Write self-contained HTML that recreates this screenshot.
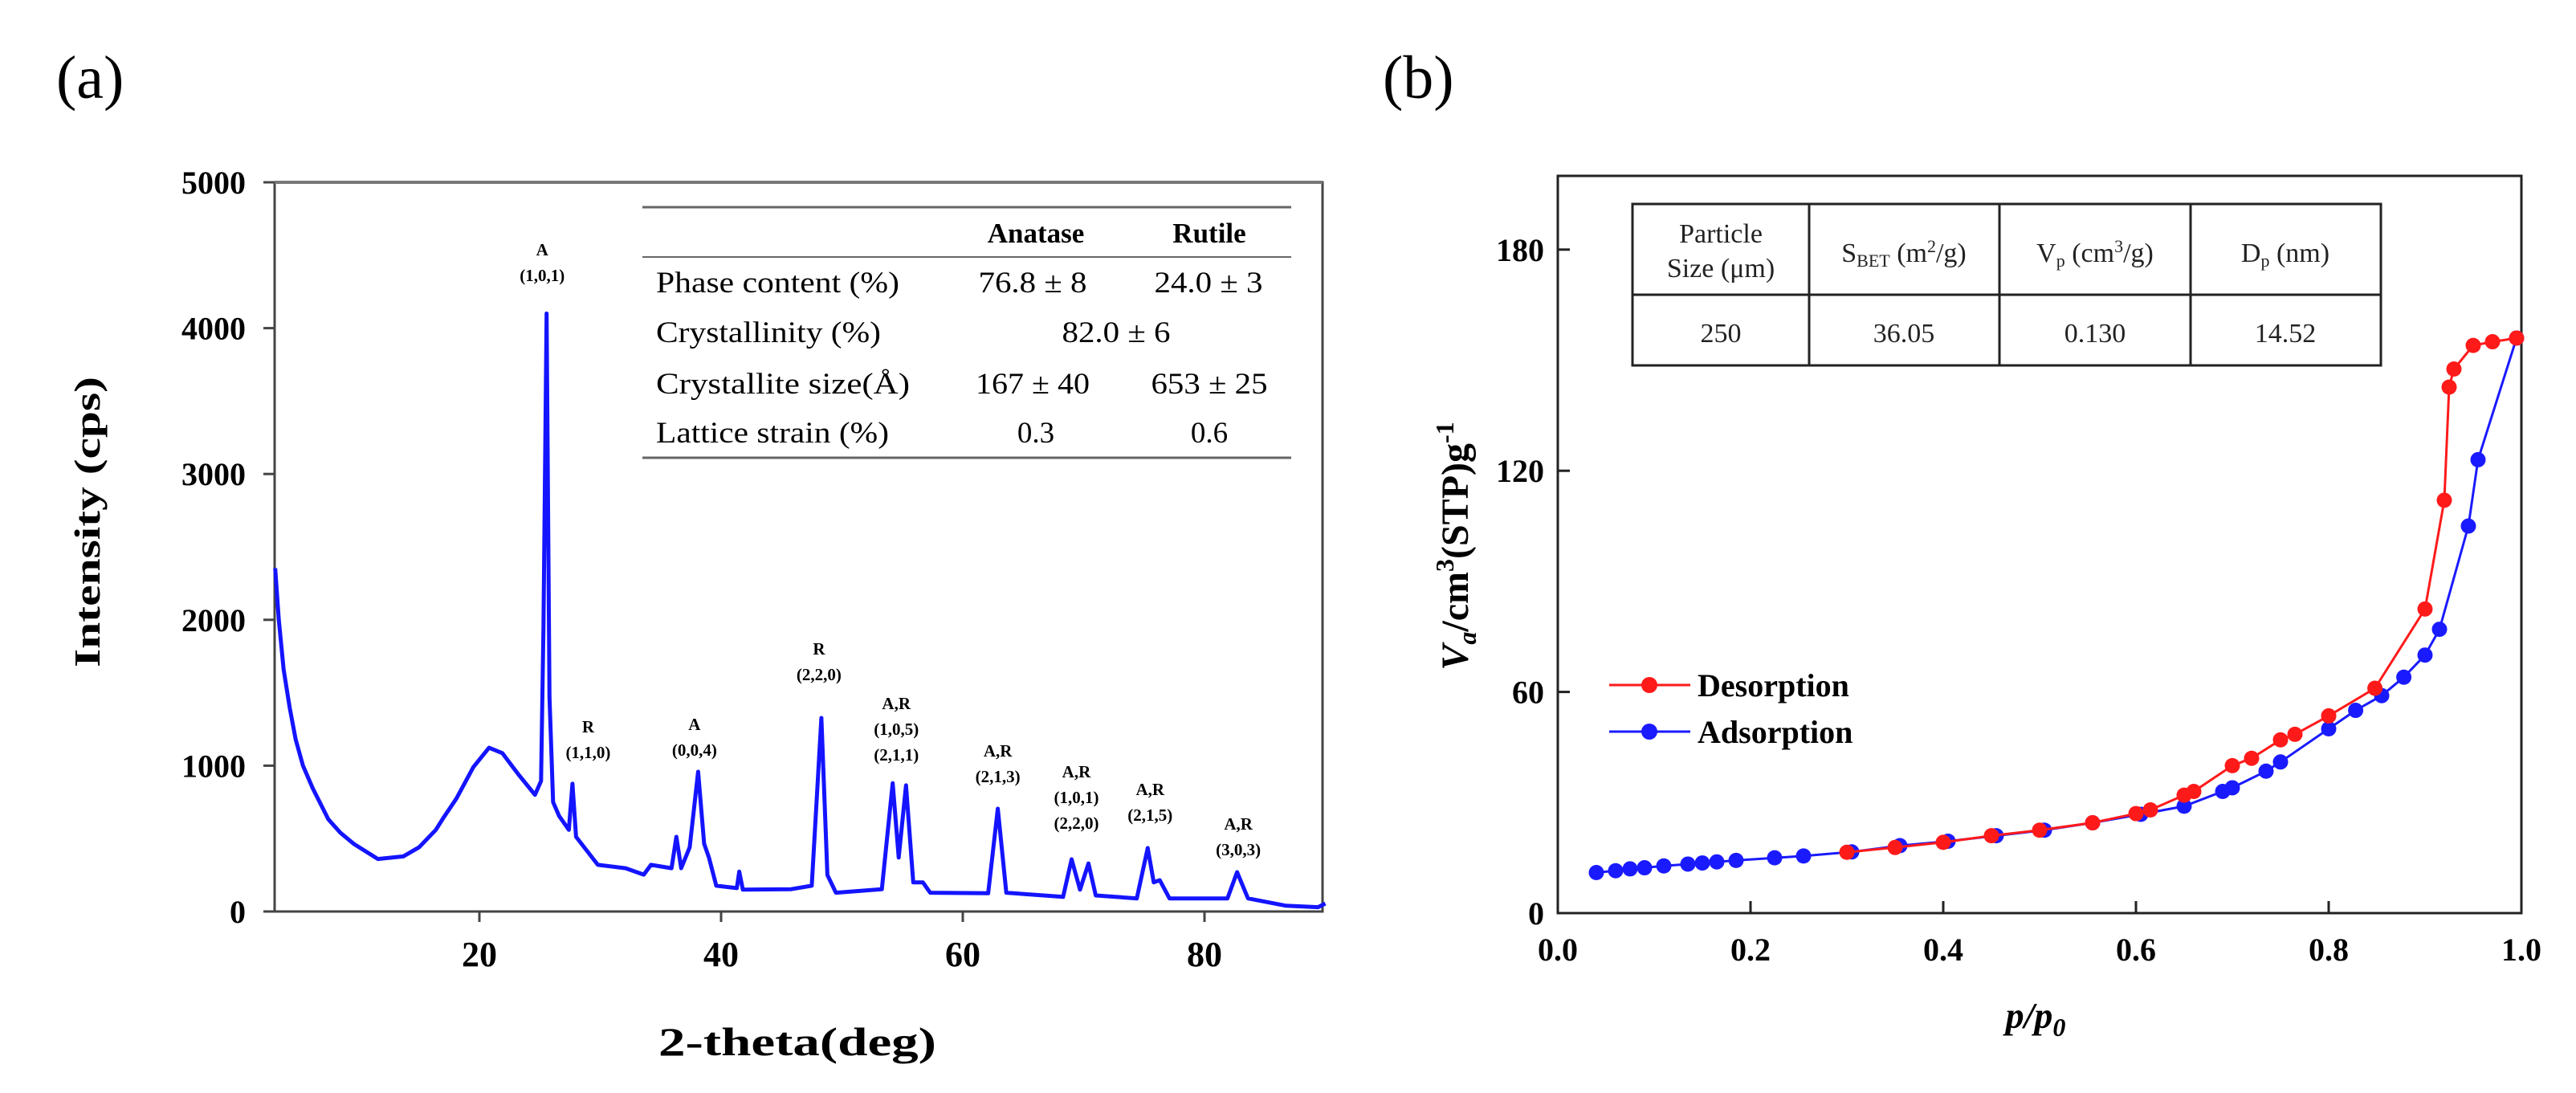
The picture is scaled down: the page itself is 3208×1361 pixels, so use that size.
<!DOCTYPE html>
<html><head><meta charset="utf-8">
<style>
html,body{margin:0;padding:0;background:#fff;overflow:hidden;}
svg{display:block;font-family:"Liberation Serif",serif;}
</style></head>
<body>
<svg id="fig" width="3208" height="1361" viewBox="0 0 3208 1361" xmlns="http://www.w3.org/2000/svg">
<rect width="3208" height="1361" fill="#fff"/>
<text x="70" y="122" font-size="76">(a)</text>
<text x="1722" y="122" font-size="76">(b)</text>

<!-- Panel A -->
<g id="pa">
  <rect x="342" y="227" width="1305" height="908" fill="none" stroke="#444" stroke-width="3"/>
  <line x1="342" y1="227" x2="1647" y2="227" stroke="#777" stroke-width="4"/>
  <g id="pa-ticks"></g>
  <path id="xrd-line" fill="none" stroke="#1414ff" stroke-width="5" stroke-linejoin="round"/>
  <g id="pa-peaks"></g>
  <text transform="translate(124,650) rotate(-90)" text-anchor="middle" font-size="46" font-weight="bold" textLength="362" lengthAdjust="spacingAndGlyphs">Intensity (cps)</text>
  <text x="993" y="1314" text-anchor="middle" font-size="50" font-weight="bold" textLength="346" lengthAdjust="spacingAndGlyphs">2-theta(deg)</text>
  <g font-size="37">
    <line x1="800" y1="258" x2="1608" y2="258" stroke="#666" stroke-width="3"/>
    <line x1="800" y1="320" x2="1608" y2="320" stroke="#666" stroke-width="2"/>
    <line x1="800" y1="570" x2="1608" y2="570" stroke="#666" stroke-width="3"/>
    <text x="1290" y="302" text-anchor="middle" font-weight="bold" font-size="35">Anatase</text>
    <text x="1506" y="302" text-anchor="middle" font-weight="bold" font-size="35">Rutile</text>
    <text x="817" y="364" textLength="303" lengthAdjust="spacingAndGlyphs">Phase content (%)</text>
    <text x="1286" y="364" text-anchor="middle" textLength="135" lengthAdjust="spacingAndGlyphs">76.8 ± 8</text>
    <text x="1505" y="364" text-anchor="middle" textLength="135" lengthAdjust="spacingAndGlyphs">24.0 ± 3</text>
    <text x="817" y="426" textLength="280" lengthAdjust="spacingAndGlyphs">Crystallinity (%)</text>
    <text x="1390" y="426" text-anchor="middle" textLength="135" lengthAdjust="spacingAndGlyphs">82.0 ± 6</text>
    <text x="817" y="490" textLength="316" lengthAdjust="spacingAndGlyphs">Crystallite size(Å)</text>
    <text x="1286" y="490" text-anchor="middle" textLength="142" lengthAdjust="spacingAndGlyphs">167 ± 40</text>
    <text x="1506" y="490" text-anchor="middle" textLength="145" lengthAdjust="spacingAndGlyphs">653 ± 25</text>
    <text x="817" y="551" textLength="290" lengthAdjust="spacingAndGlyphs">Lattice strain (%)</text>
    <text x="1290" y="551" text-anchor="middle">0.3</text>
    <text x="1506" y="551" text-anchor="middle">0.6</text>
  </g>
</g>

<!-- Panel B -->
<g id="pb">
  <rect x="1940" y="219" width="1200" height="918" fill="none" stroke="#222" stroke-width="3"/>
  <g id="pb-ticks"></g>
  <g id="pb-series"></g>
  <text transform="translate(1828,680) rotate(-90)" text-anchor="middle" font-size="48" font-weight="bold"><tspan font-style="italic">V</tspan><tspan font-style="italic" font-size="32" dy="10">a</tspan><tspan dy="-10">/cm</tspan><tspan font-size="32" dy="-18">3</tspan><tspan dy="18">(STP)g</tspan><tspan font-size="32" dy="-18">-1</tspan></text>
  <text x="2535" y="1280" text-anchor="middle" font-size="46" font-weight="bold" font-style="italic">p/p<tspan font-size="32" dy="10">0</tspan></text>
  <g font-size="40" font-weight="bold">
    <line x1="2004" y1="853" x2="2105" y2="853" stroke="#ff1a1a" stroke-width="3"/>
    <circle cx="2054" cy="853" r="10" fill="#ff1a1a"/>
    <text x="2114" y="867">Desorption</text>
    <line x1="2004" y1="911" x2="2105" y2="911" stroke="#1a1aff" stroke-width="3"/>
    <circle cx="2054" cy="911" r="10" fill="#1a1aff"/>
    <text x="2114" y="925">Adsorption</text>
  </g>
  <g font-size="34" fill="#222">
    <rect x="2033" y="254" width="932" height="201" fill="#fff" stroke="#222" stroke-width="3"/>
    <line x1="2033" y1="367" x2="2965" y2="367" stroke="#222" stroke-width="3"/>
    <line x1="2253" y1="254" x2="2253" y2="455" stroke="#222" stroke-width="3"/>
    <line x1="2490" y1="254" x2="2490" y2="455" stroke="#222" stroke-width="3"/>
    <line x1="2728" y1="254" x2="2728" y2="455" stroke="#222" stroke-width="3"/>
    <text x="2143" y="302" text-anchor="middle">Particle</text>
    <text x="2143" y="345" text-anchor="middle">Size (μm)</text>
    <text x="2371" y="326" text-anchor="middle">S<tspan font-size="22" dy="6">BET</tspan><tspan dy="-6"> (m</tspan><tspan font-size="22" dy="-12">2</tspan><tspan dy="12">/g)</tspan></text>
    <text x="2609" y="326" text-anchor="middle">V<tspan font-size="22" dy="6">p</tspan><tspan dy="-6"> (cm</tspan><tspan font-size="22" dy="-12">3</tspan><tspan dy="12">/g)</tspan></text>
    <text x="2846" y="326" text-anchor="middle">D<tspan font-size="22" dy="6">p</tspan><tspan dy="-6"> (nm)</tspan></text>
    <text x="2143" y="426" text-anchor="middle">250</text>
    <text x="2371" y="426" text-anchor="middle">36.05</text>
    <text x="2609" y="426" text-anchor="middle">0.130</text>
    <text x="2846" y="426" text-anchor="middle">14.52</text>
  </g>
</g>
</svg>
<script>
// ---- Panel A data ----
const xrdTheta = [3.1,3.4,3.8,4.3,4.8,5.4,6.2,7.5,8.5,9.6,11.6,13.7,15.0,16.4,17.0,18.1,19.5,20.8,21.9,22.5,23.2,24.6,25.1,25.3,25.56,25.8,26.1,26.6,27.4,27.7,28.0,29.8,32.1,33.6,34.2,35.9,36.3,36.7,37.4,38.1,38.6,39.0,39.6,41.3,41.5,41.8,45.8,47.5,48.3,48.8,49.5,53.3,54.2,54.7,55.3,55.9,56.7,57.3,62.1,62.9,63.6,68.3,69.0,69.7,70.4,71.0,74.4,75.3,75.8,76.3,77.1,81.9,82.7,83.6,86.7,89.4,90.0];
const xrdIntensity = [2354,2000,1660,1400,1180,1000,847,632,540,464,360,378,440,560,640,775,990,1123,1086,1020,943,800,895,1950,4100,1470,750,655,560,876,512,320,297,253,320,297,512,297,440,958,464,368,177,160,273,150,153,177,1327,250,129,153,880,370,865,200,200,129,125,705,129,100,358,150,330,110,90,435,200,215,90,90,270,90,40,30,55];
const xTicks = [20,40,60,80];
const yTicks = [0,1000,2000,3000,4000,5000];
const peakNames = ["A|(1,0,1)","R|(1,1,0)","A|(0,0,4)","R|(2,2,0)","A,R|(1,0,5)|(2,1,1)","A,R|(2,1,3)","A,R|(1,0,1)|(2,2,0)","A,R|(2,1,5)","A,R|(3,0,3)"];
const peakTheta = [25.2,29.0,37.8,48.1,54.5,62.9,69.4,75.5,82.8];
const peakLabelIntensity = [4499,1228,1245,1762,1388,1063,920,799,562];

// ---- Panel B data ----
const adsP = [0.04,0.06,0.075,0.09,0.11,0.135,0.15,0.165,0.185,0.225,0.255,0.305,0.355,0.405,0.455,0.505,0.555,0.605,0.65,0.69,0.70,0.735,0.75,0.80,0.828,0.855,0.878,0.90,0.915,0.945,0.955,0.995];
const adsV = [11,11.5,12,12.3,12.8,13.3,13.6,13.9,14.3,15,15.5,16.6,18.3,19.5,21,22.5,24.5,26.8,29,33,34,38.5,41,50,55,59,64,70,77,105,123,156];
const desP = [0.30,0.35,0.40,0.45,0.50,0.555,0.60,0.615,0.65,0.66,0.70,0.72,0.75,0.765,0.80,0.848,0.90,0.92,0.925,0.93,0.95,0.97,0.995];
const desV = [16.5,17.8,19.2,21,22.5,24.5,27,28,32,33,40,42,47,48.5,53.5,61,82.5,112,142.7,147.6,154,155,156];
const bxTicks = [0,0.2,0.4,0.6,0.8,1.0];
const byTicks = [0,60,120,180];

const NS="http://www.w3.org/2000/svg";
function mk(tag,attrs,parent){const e=document.createElementNS(NS,tag);for(const k in attrs)e.setAttribute(k,attrs[k]);parent.appendChild(e);return e;}

// Panel A scales
const ax=t=>597+(t-20)*15.05;
const ay=v=>1135-v*0.1816;
const ga=document.getElementById('pa-ticks');
xTicks.forEach(t=>{
  const l=mk('line',{x1:ax(t),x2:ax(t),y1:1135,y2:1148,stroke:'#444','stroke-width':3},ga);
  
  
  const tx=mk('text',{x:ax(t),y:1203,'text-anchor':'middle','font-size':44,'font-weight':'bold'},ga);
  tx.textContent=t;
  
  
});
yTicks.forEach(v=>{
  const l=mk('line',{x1:328,x2:342,y1:ay(v),y2:ay(v),stroke:'#444','stroke-width':3},ga);
  
  
  const tx=mk('text',{x:306,y:ay(v)+14,'text-anchor':'end','font-size':40,'font-weight':'bold'},ga);
  tx.textContent=v;
  
  
});
document.getElementById('xrd-line').setAttribute('d',xrdTheta.map((t,i)=>(i?'L':'M')+ax(t).toFixed(1)+','+ay(xrdIntensity[i]).toFixed(1)).join(''));
const gp=document.getElementById('pa-peaks');
peakNames.forEach((n,i)=>{
  const parts=n.split('|');
  const baseY=ay(peakLabelIntensity[i]);
  parts.forEach((p,j)=>{
    const tx=mk('text',{x:ax(peakTheta[i]),y:baseY+j*32,'text-anchor':'middle','font-size':21,'font-weight':'bold'},gp);
    tx.textContent=p;
    
    
  });
});

// Panel B scales
const bx=p=>1940+p*1200;
const by=v=>1137-v*4.59;
const gb=document.getElementById('pb-ticks');
bxTicks.forEach(t=>{
  const l=mk('line',{x1:bx(t),x2:bx(t),y1:1137,y2:1122,stroke:'#222','stroke-width':3},gb);
  
  
  const tx=mk('text',{x:bx(t),y:1196,'text-anchor':'middle','font-size':40,'font-weight':'bold'},gb);
  tx.textContent=t.toFixed(1);
  
  
});
byTicks.forEach(v=>{
  const l=mk('line',{x1:1940,x2:1955,y1:by(v),y2:by(v),stroke:'#222','stroke-width':3},gb);
  
  
  const tx=mk('text',{x:1923,y:by(v)+14,'text-anchor':'end','font-size':40,'font-weight':'bold'},gb);
  tx.textContent=v;
  
  
});
const gs=document.getElementById('pb-series');
function series(P,V,color,name){
  const pl=mk('polyline',{points:P.map((p,i)=>bx(p).toFixed(1)+','+by(V[i]).toFixed(1)).join(' '),fill:'none',stroke:color,'stroke-width':3},gs);
  
  
  P.forEach((p,i)=>{
    const c=mk('circle',{cx:bx(p),cy:by(V[i]),r:9.5,fill:color},gs);
    
    
  });
}
series(adsP,adsV,'#1a1aff','adsorption');
series(desP,desV,'#ff1a1a','desorption');
</script>
</body></html>
